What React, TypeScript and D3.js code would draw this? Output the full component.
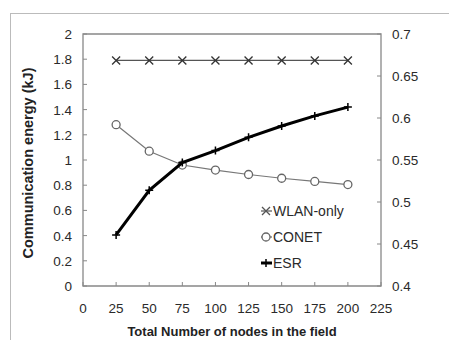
import React from "react";
import * as d3 from "d3";

const nodes = [25, 50, 75, 100, 125, 150, 175, 200];
const wlanOnly = [1.79, 1.79, 1.79, 1.79, 1.79, 1.79, 1.79, 1.79];
const conet = [1.28, 1.07, 0.96, 0.92, 0.885, 0.855, 0.83, 0.805];
const esr = [0.405, 0.76, 0.98, 1.075, 1.18, 1.27, 1.35, 1.42];
const xTicks = [0, 25, 50, 75, 100, 125, 150, 175, 200, 225];
const yLeftTicks = [0, 0.2, 0.4, 0.6, 0.8, 1, 1.2, 1.4, 1.6, 1.8, 2];
const yRightTicks = [0.4, 0.45, 0.5, 0.55, 0.6, 0.65, 0.7];

const W = 449, H = 340;
const L = 83, R = 381, T = 34, B = 286;

export default function App() {
  const x = d3.scaleLinear().domain([0, 225]).range([L, R]);
  const y = d3.scaleLinear().domain([0, 2]).range([B, T]);
  const y2 = d3.scaleLinear().domain([0.4, 0.7]).range([B, T]);
  const line = d3.line<number>().x((_, i) => x(nodes[i])).y((v) => y(v));
  const font = "Liberation Sans, Arial, sans-serif";
  const txt = "#2a2a2a";
  const axisCol = "#888";

  const xMark = (cx: number, cy: number, k: string, col: string) => (
    <path key={k} d={`M${cx - 4},${cy - 4}L${cx + 4},${cy + 4}M${cx - 4},${cy + 4}L${cx + 4},${cy - 4}`} stroke={col} strokeWidth={1.3} fill="none" />
  );
  const oMark = (cx: number, cy: number, k: string, col: string) => (
    <circle key={k} cx={cx} cy={cy} r={4} stroke={col} strokeWidth={1.3} fill="white" />
  );
  const pMark = (cx: number, cy: number, k: string, col: string) => (
    <path key={k} d={`M${cx - 4},${cy}L${cx + 4},${cy}M${cx},${cy - 4}L${cx},${cy + 4}`} stroke={col} strokeWidth={1.5} fill="none" />
  );

  const legend = [
    { name: "WLAN-only", mark: xMark, col: "#555", w: 1.2, ly: 211 },
    { name: "CONET", mark: oMark, col: "#666", w: 1.2, ly: 237 },
    { name: "ESR", mark: pMark, col: "#000", w: 3, ly: 263 },
  ];

  return (
    <svg width={W} height={H} style={{ position: "absolute", left: 0, top: 0 }} fontFamily={font}>
      <rect x={0} y={0} width={W} height={H} fill="white" />
      <rect x={10.5} y={13.5} width={W + 10} height={H + 10} fill="none" stroke="#bbb" strokeWidth={1} />
      <path d={`M${L},${T}H${R}V${B}H${L}Z`} fill="none" stroke={axisCol} strokeWidth={1.3} />
      {xTicks.map((t) => (
        <g key={"xt" + t}>
          <line x1={x(t)} x2={x(t)} y1={B} y2={B - 4} stroke={axisCol} strokeWidth={1} />
          <text x={x(t)} y={313} textAnchor="middle" fontSize={13.5} fill={txt}>{t}</text>
        </g>
      ))}
      {yLeftTicks.map((t) => (
        <g key={"yl" + t}>
          <line x1={L} x2={L + 4} y1={y(t)} y2={y(t)} stroke={axisCol} strokeWidth={1} />
          <text x={72} y={y(t) + 5} textAnchor="end" fontSize={13.5} fill={txt}>{t}</text>
        </g>
      ))}
      {yRightTicks.map((t) => (
        <g key={"yr" + t}>
          <line x1={R} x2={R - 4} y1={y2(t)} y2={y2(t)} stroke={axisCol} strokeWidth={1} />
          <text x={392} y={y2(t) + 5} textAnchor="start" fontSize={13.5} fill={txt}>{t}</text>
        </g>
      ))}
      <text x={232} y={336} textAnchor="middle" fontSize={13} fontWeight="bold" fill="#222">Total Number of nodes in the field</text>
      <text transform={`translate(33,${163}) rotate(-90)`} textAnchor="middle" fontSize={14.5} fontWeight="bold" fill="#222">Communication energy (kJ)</text>

      <path d={line(wlanOnly) || ""} fill="none" stroke="#555" strokeWidth={1.2} />
      {wlanOnly.map((v, i) => xMark(x(nodes[i]), y(v), "w" + i, "#333"))}
      <path d={line(conet) || ""} fill="none" stroke="#777" strokeWidth={1.2} />
      {conet.map((v, i) => oMark(x(nodes[i]), y(v), "c" + i, "#666"))}
      <path d={line(esr) || ""} fill="none" stroke="#000" strokeWidth={3} />
      {esr.map((v, i) => pMark(x(nodes[i]), y(v), "e" + i, "#000"))}

      {legend.map((l) => (
        <g key={l.name}>
          <line x1={261} x2={272} y1={l.ly} y2={l.ly} stroke={l.col} strokeWidth={l.w} />
          {l.mark(266, l.ly, "lm" + l.name, l.col)}
          <text x={273} y={l.ly + 5} fontSize={14} fill={txt}>{l.name}</text>
        </g>
      ))}
    </svg>
  );
}
